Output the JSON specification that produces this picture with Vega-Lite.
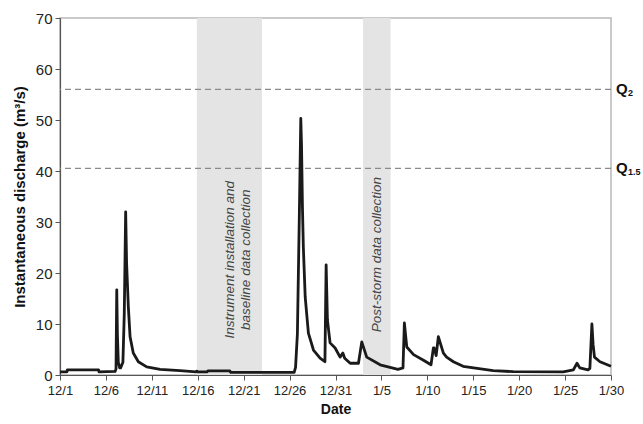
{
  "$schema": "https://vega.github.io/schema/vega-lite/v6.json",
  "width": 551,
  "height": 357,
  "autosize": {"type": "none"},
  "padding": {"left": 60, "top": 18, "right": 32, "bottom": 49},
  "background": "white",
  "config": {
    "font": "Liberation Sans",
    "view": {"stroke": "#b8b8b8", "strokeWidth": 1.5},
    "axis": {"domainColor": "#555555", "tickColor": "#555555", "labelColor": "#222222", "titleColor": "#111111", "grid": false, "domainWidth": 1.2, "labelFlush": false}
  },
  "datasets": {
    "flow": [
      {"t": "2012-12-01T00:00", "q": 0.6},
      {"t": "2012-12-01T18:00", "q": 0.6},
      {"t": "2012-12-01T19:12", "q": 1.0},
      {"t": "2012-12-05T04:48", "q": 1.0},
      {"t": "2012-12-05T06:00", "q": 0.6},
      {"t": "2012-12-07T00:00", "q": 0.7},
      {"t": "2012-12-07T02:24", "q": 1.2},
      {"t": "2012-12-07T04:19", "q": 16.7},
      {"t": "2012-12-07T06:00", "q": 8},
      {"t": "2012-12-07T08:24", "q": 2.5},
      {"t": "2012-12-07T12:00", "q": 1.4},
      {"t": "2012-12-07T14:24", "q": 1.4},
      {"t": "2012-12-07T20:24", "q": 2.5},
      {"t": "2012-12-08T00:00", "q": 12},
      {"t": "2012-12-08T03:36", "q": 32},
      {"t": "2012-12-08T06:00", "q": 22},
      {"t": "2012-12-08T10:34", "q": 13.4},
      {"t": "2012-12-08T15:07", "q": 7.5},
      {"t": "2012-12-08T23:31", "q": 4.3},
      {"t": "2012-12-09T12:43", "q": 2.6},
      {"t": "2012-12-10T10:34", "q": 1.6},
      {"t": "2012-12-11T21:36", "q": 1.1},
      {"t": "2012-12-14T01:41", "q": 0.85},
      {"t": "2012-12-15T19:12", "q": 0.6},
      {"t": "2012-12-15T21:36", "q": 0.75},
      {"t": "2012-12-16T00:00", "q": 0.6},
      {"t": "2012-12-17T00:00", "q": 0.6},
      {"t": "2012-12-17T02:24", "q": 0.8},
      {"t": "2012-12-19T12:00", "q": 0.8},
      {"t": "2012-12-19T14:24", "q": 0.5},
      {"t": "2012-12-26T12:00", "q": 0.5},
      {"t": "2012-12-26T15:36", "q": 1.5},
      {"t": "2012-12-26T20:24", "q": 8},
      {"t": "2012-12-27T01:12", "q": 30},
      {"t": "2012-12-27T05:17", "q": 50.3},
      {"t": "2012-12-27T07:12", "q": 45},
      {"t": "2012-12-27T09:36", "q": 33},
      {"t": "2012-12-27T12:00", "q": 25},
      {"t": "2012-12-27T16:48", "q": 15.3},
      {"t": "2012-12-28T01:12", "q": 8.2},
      {"t": "2012-12-28T14:24", "q": 4.9},
      {"t": "2012-12-29T07:41", "q": 3.3},
      {"t": "2012-12-29T20:24", "q": 2.6},
      {"t": "2012-12-29T23:31", "q": 21.6},
      {"t": "2012-12-30T02:53", "q": 10.8},
      {"t": "2012-12-30T09:50", "q": 6.3},
      {"t": "2012-12-30T23:02", "q": 5.3},
      {"t": "2012-12-31T12:00", "q": 3.5},
      {"t": "2012-12-31T19:12", "q": 4.3},
      {"t": "2013-01-01T00:00", "q": 3.3},
      {"t": "2013-01-01T14:24", "q": 2.3},
      {"t": "2013-01-02T12:00", "q": 2.3},
      {"t": "2013-01-02T20:38", "q": 6.5},
      {"t": "2013-01-03T09:36", "q": 3.5},
      {"t": "2013-01-04T20:38", "q": 2.0},
      {"t": "2013-01-06T19:12", "q": 1.1},
      {"t": "2013-01-07T08:24", "q": 1.4},
      {"t": "2013-01-07T12:00", "q": 10.2},
      {"t": "2013-01-07T18:14", "q": 5.5},
      {"t": "2013-01-08T12:00", "q": 4.0},
      {"t": "2013-01-09T13:55", "q": 2.9},
      {"t": "2013-01-10T09:36", "q": 2.0},
      {"t": "2013-01-10T15:50", "q": 5.3},
      {"t": "2013-01-10T18:00", "q": 5.3},
      {"t": "2013-01-10T23:02", "q": 3.8},
      {"t": "2013-01-11T04:48", "q": 7.5},
      {"t": "2013-01-11T18:00", "q": 4.3},
      {"t": "2013-01-12T02:24", "q": 3.5},
      {"t": "2013-01-12T20:10", "q": 2.6},
      {"t": "2013-01-13T21:36", "q": 1.7},
      {"t": "2013-01-14T15:50", "q": 1.5},
      {"t": "2013-01-17T04:05", "q": 0.85},
      {"t": "2013-01-19T08:24", "q": 0.65},
      {"t": "2013-01-24T19:12", "q": 0.6},
      {"t": "2013-01-25T21:36", "q": 1.0},
      {"t": "2013-01-26T07:12", "q": 2.3},
      {"t": "2013-01-26T14:24", "q": 1.4},
      {"t": "2013-01-27T12:00", "q": 1.0},
      {"t": "2013-01-27T16:48", "q": 1.3},
      {"t": "2013-01-27T22:05", "q": 10},
      {"t": "2013-01-28T01:12", "q": 6},
      {"t": "2013-01-28T04:48", "q": 3.5},
      {"t": "2013-01-28T19:12", "q": 2.6},
      {"t": "2013-01-30T00:00", "q": 1.7}
    ],
    "shade": [
      {"start": "2012-12-15T21:36", "end": "2012-12-23T00:00"},
      {"start": "2013-01-03T00:00", "end": "2013-01-06T00:00"}
    ],
    "notes": [
      {"t": "2012-12-19T12:00", "q": 22.6, "label": "Instrument installation and\nbaseline data collection"},
      {"t": "2013-01-04T12:00", "q": 23.6, "label": "Post-storm data collection"}
    ],
    "thr": [
      {"q": 56, "main": "Q", "sub": "2"},
      {"q": 40.5, "main": "Q", "sub": "1.5"}
    ]
  },
  "layer": [
    {
      "data": {"name": "shade"},
      "mark": {"type": "rect", "color": "#e4e4e4"},
      "encoding": {
        "x": {
          "field": "start", "type": "temporal",
          "scale": {"domain": [{"year": 2012, "month": 12, "date": 1}, {"year": 2013, "month": 1, "date": 30}]},
          "axis": {
            "title": "Date", "titleFontSize": 14, "titleFontWeight": "bold", "titlePadding": 5,
            "labelFontSize": 13, "labelPadding": 4, "tickSize": 5, "format": "%-m/%-d",
            "values": [
              {"year": 2012, "month": 12, "date": 1},
              {"year": 2012, "month": 12, "date": 6},
              {"year": 2012, "month": 12, "date": 11},
              {"year": 2012, "month": 12, "date": 16},
              {"year": 2012, "month": 12, "date": 21},
              {"year": 2012, "month": 12, "date": 26},
              {"year": 2012, "month": 12, "date": 31},
              {"year": 2013, "month": 1, "date": 5},
              {"year": 2013, "month": 1, "date": 10},
              {"year": 2013, "month": 1, "date": 15},
              {"year": 2013, "month": 1, "date": 20},
              {"year": 2013, "month": 1, "date": 25},
              {"year": 2013, "month": 1, "date": 30}
            ]
          }
        },
        "x2": {"field": "end"}
      }
    },
    {
      "data": {"name": "notes"},
      "mark": {"type": "text", "angle": 270, "fontStyle": "italic", "fontSize": 13.5, "color": "#444444", "lineBreak": "\n", "align": "center", "baseline": "middle", "lineHeight": 16},
      "encoding": {
        "x": {"field": "t", "type": "temporal"},
        "y": {"field": "q", "type": "quantitative"},
        "text": {"field": "label"}
      }
    },
    {
      "data": {"name": "thr"},
      "mark": {"type": "rule", "color": "#8a8a8a", "strokeDash": [6, 4], "strokeWidth": 1.3},
      "encoding": {"y": {"field": "q", "type": "quantitative"}}
    },
    {
      "data": {"name": "flow"},
      "mark": {"type": "line", "color": "#1a1a1a", "strokeWidth": 2.8, "strokeJoin": "round"},
      "encoding": {
        "x": {"field": "t", "type": "temporal"},
        "y": {
          "field": "q", "type": "quantitative",
          "scale": {"domain": [0, 70]},
          "axis": {
            "title": "Instantaneous discharge (m³/s)", "titleFontSize": 15, "titleFontWeight": "bold", "titlePadding": 8,
            "labelFontSize": 15, "labelPadding": 3, "tickSize": 5,
            "values": [0, 10, 20, 30, 40, 50, 60, 70]
          }
        }
      }
    },
    {
      "data": {"name": "thr"},
      "mark": {"type": "text", "align": "left", "baseline": "middle", "dx": 5, "fontSize": 15, "fontWeight": "bold", "color": "#111111"},
      "encoding": {
        "x": {"datum": {"year": 2013, "month": 1, "date": 30}, "type": "temporal"},
        "y": {"field": "q", "type": "quantitative"},
        "text": {"field": "main"}
      }
    },
    {
      "data": {"name": "thr"},
      "mark": {"type": "text", "align": "left", "baseline": "middle", "dx": 17, "dy": 4, "fontSize": 9, "fontWeight": "bold", "color": "#111111"},
      "encoding": {
        "x": {"datum": {"year": 2013, "month": 1, "date": 30}, "type": "temporal"},
        "y": {"field": "q", "type": "quantitative"},
        "text": {"field": "sub"}
      }
    }
  ]
}
